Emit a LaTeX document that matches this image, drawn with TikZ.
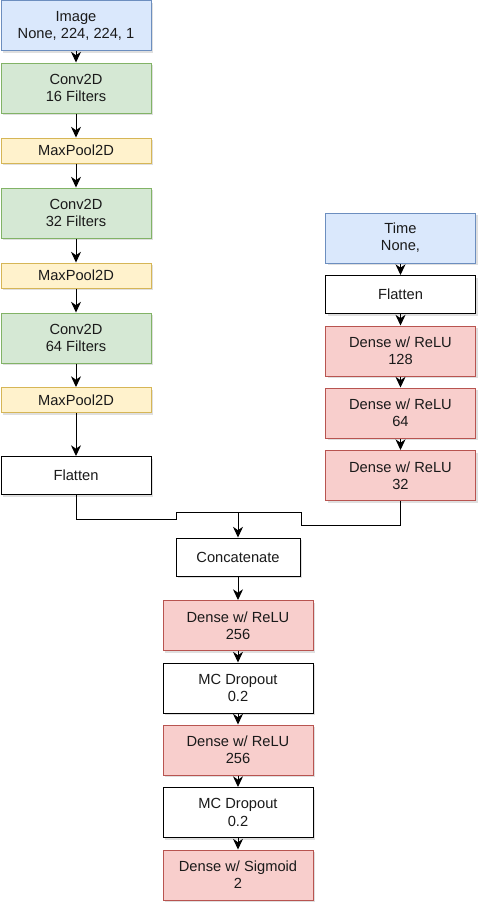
\documentclass[tikz,border=0pt]{standalone}
\usepackage{fontspec}
\setmainfont{Liberation Sans}
\usetikzlibrary{arrows.meta,shadows}
\definecolor{blueF}{HTML}{DAE8FC}\definecolor{blueD}{HTML}{6C8EBF}
\definecolor{greenF}{HTML}{D5E8D4}\definecolor{greenD}{HTML}{82B366}
\definecolor{yellowF}{HTML}{FFF2CC}\definecolor{yellowD}{HTML}{D6B656}
\definecolor{redF}{HTML}{F8CECC}\definecolor{redD}{HTML}{B85450}
\definecolor{txt}{HTML}{1A1A1A}
\tikzset{
	layer/.style={shape=rectangle, draw, line width=0.75pt, inner sep=0, minimum width=112.5pt, minimum height=37.5pt, align=center, text=txt, font=\fontsize{11}{12.9}\selectfont, drop shadow={shadow xshift=1.5pt, shadow yshift=-1.5pt, opacity=0.25}},
	inputL/.style={layer, fill=blueF, draw=blueD},
	convL/.style={layer, fill=greenF, draw=greenD},
	poolL/.style={layer, fill=yellowF, draw=yellowD, minimum height=18.75pt},
	denseL/.style={layer, fill=redF, draw=redD},
	plainL/.style={layer, fill=white, draw=black},
	wire/.style={line width=0.75pt, -{Stealth[length=8pt, width=7.5pt, inset=2.5pt]}},
}
\begin{document}
\begin{tikzpicture}[x=0.75pt, y=-0.75pt]
	\useasboundingbox (0,0) rectangle (490,915);
	% Paths, nodes and wires:
	\node[inputL](Image) at (76, 25.5){Image\\None, 224, 224, 1};
	\node[convL](Conv1) at (76, 88){Conv2D\\16 Filters};
	\node[poolL](Pool1) at (76, 150.5){MaxPool2D};
	\node[convL](Conv2) at (76, 213){Conv2D\\32 Filters};
	\node[poolL](Pool2) at (76, 275.5){MaxPool2D};
	\node[convL](Conv3) at (76, 338){Conv2D\\64 Filters};
	\node[poolL](Pool3) at (76, 400){MaxPool2D};
	\node[plainL, minimum height=28.5pt](FlatL) at (76, 475.5){Flatten};
	\node[inputL](Time) at (400.5, 238){Time\\None,};
	\node[plainL, minimum height=28.5pt](FlatR) at (400.5, 294.5){Flatten};
	\node[denseL](Dense1) at (400.5, 351){Dense w/ ReLU\\128};
	\node[denseL](Dense2) at (400.5, 413){Dense w/ ReLU\\64};
	\node[denseL](Dense3) at (400.5, 475.5){Dense w/ ReLU\\32};
	\node[plainL, minimum width=93pt, minimum height=28.5pt](Concat) at (238, 557){Concatenate};
	\node[denseL](Dense4) at (238, 625.5){Dense w/ ReLU\\256};
	\node[plainL](Drop1) at (238, 688){MC Dropout\\0.2};
	\node[denseL](Dense5) at (238, 750){Dense w/ ReLU\\256};
	\node[plainL](Drop2) at (238, 812.5){MC Dropout\\0.2};
	\node[denseL](Out) at (238, 875){Dense w/ Sigmoid\\2};
	\foreach \a/\b in {Image/Conv1, Conv1/Pool1, Pool1/Conv2, Conv2/Pool2, Pool2/Conv3, Conv3/Pool3, Pool3/FlatL, Time/FlatR, FlatR/Dense1, Dense1/Dense2, Dense2/Dense3, Concat/Dense4, Dense4/Drop1, Drop1/Dense5, Dense5/Drop2, Drop2/Out}
		\draw[wire] (\a.south) -- (\b.north);
	\draw[wire] (FlatL.south) -- (76, 519) -- (176, 519) -- (176, 512) -- (238, 512) -- (Concat.north);
	\draw[line width=0.75pt] (Dense3.south) -- (400.5, 525) -- (301, 525) -- (301, 512) -- (238, 512);
\end{tikzpicture}
\end{document}
